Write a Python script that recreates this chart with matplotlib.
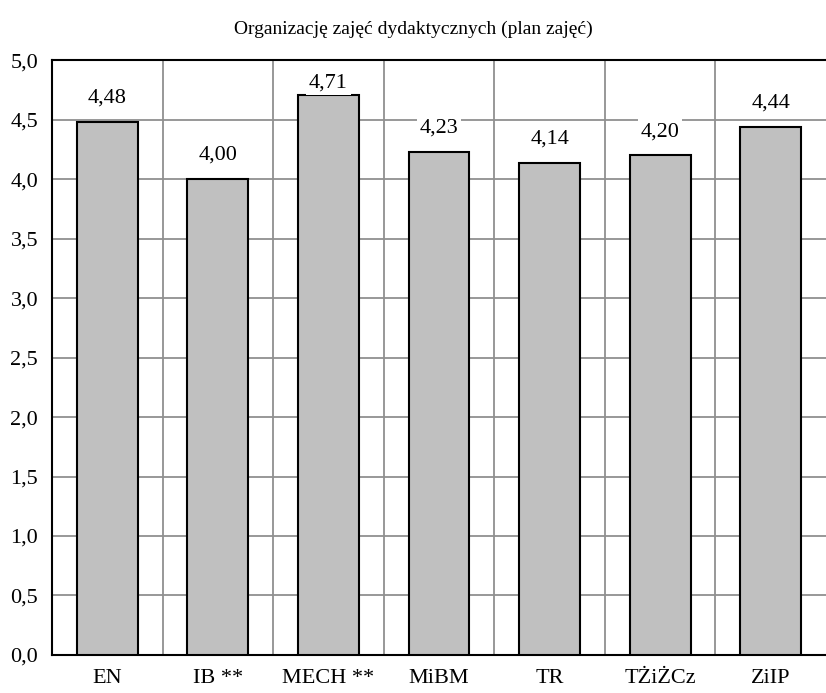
import matplotlib.pyplot as plt
import numpy as np
from matplotlib.ticker import FixedLocator

plt.rcParams['font.family'] = ['Liberation Serif', 'DejaVu Serif']

kierunki = ['EN', 'IB **', 'MECH **', 'MiBM', 'TR', 'TŻiŻCz', 'ZiIP']
oceny = [4.48, 4.00, 4.71, 4.23, 4.14, 4.20, 4.44]
y_ticks = [0.0, 0.5, 1.0, 1.5, 2.0, 2.5, 3.0, 3.5, 4.0, 4.5, 5.0]

fig = plt.figure(figsize=(8.26, 6.93), dpi=100)
ax = fig.add_axes([0.063, 0.055, 0.937, 0.858])

x = np.arange(len(kierunki))
ax.bar(x, oceny, width=0.55, color='#c0c0c0', edgecolor='black', linewidth=1.5, zorder=3)

for xi, v in zip(x, oceny):
    ax.text(xi, min(v + 0.2, 4.81), f'{v:.2f}'.replace('.', ','), ha='center', va='center',
            fontsize=16, zorder=4,
            bbox=dict(facecolor='white', edgecolor='none', pad=2))

ax.set_xlim(-0.5, len(kierunki) - 0.5)
ax.set_ylim(0, 5)
ax.set_yticks(y_ticks)
ax.set_yticklabels([f'{t:.1f}'.replace('.', ',') for t in y_ticks], fontsize=16)
ax.set_xticks(x)
ax.set_xticklabels(kierunki, fontsize=16)
ax.xaxis.set_minor_locator(FixedLocator(np.arange(0.5, len(kierunki) - 0.5, 1)))
ax.tick_params(axis='both', which='both', length=0)
ax.tick_params(axis='x', pad=10)
ax.tick_params(axis='y', pad=10)

ax.grid(axis='y', which='major', color='#909090', linewidth=1.3, zorder=0)
ax.grid(axis='x', which='minor', color='#909090', linewidth=1.3, zorder=0)
ax.set_axisbelow(True)

for s in ['left', 'top', 'bottom']:
    ax.spines[s].set_linewidth(1.5)
    ax.spines[s].set_color('black')
ax.spines['right'].set_visible(False)

fig.text(0.5, 0.958, 'Organizację zajęć dydaktycznych (plan zajęć)', ha='center', va='center', fontsize=14)

fig.savefig('out.png', dpi=100)
